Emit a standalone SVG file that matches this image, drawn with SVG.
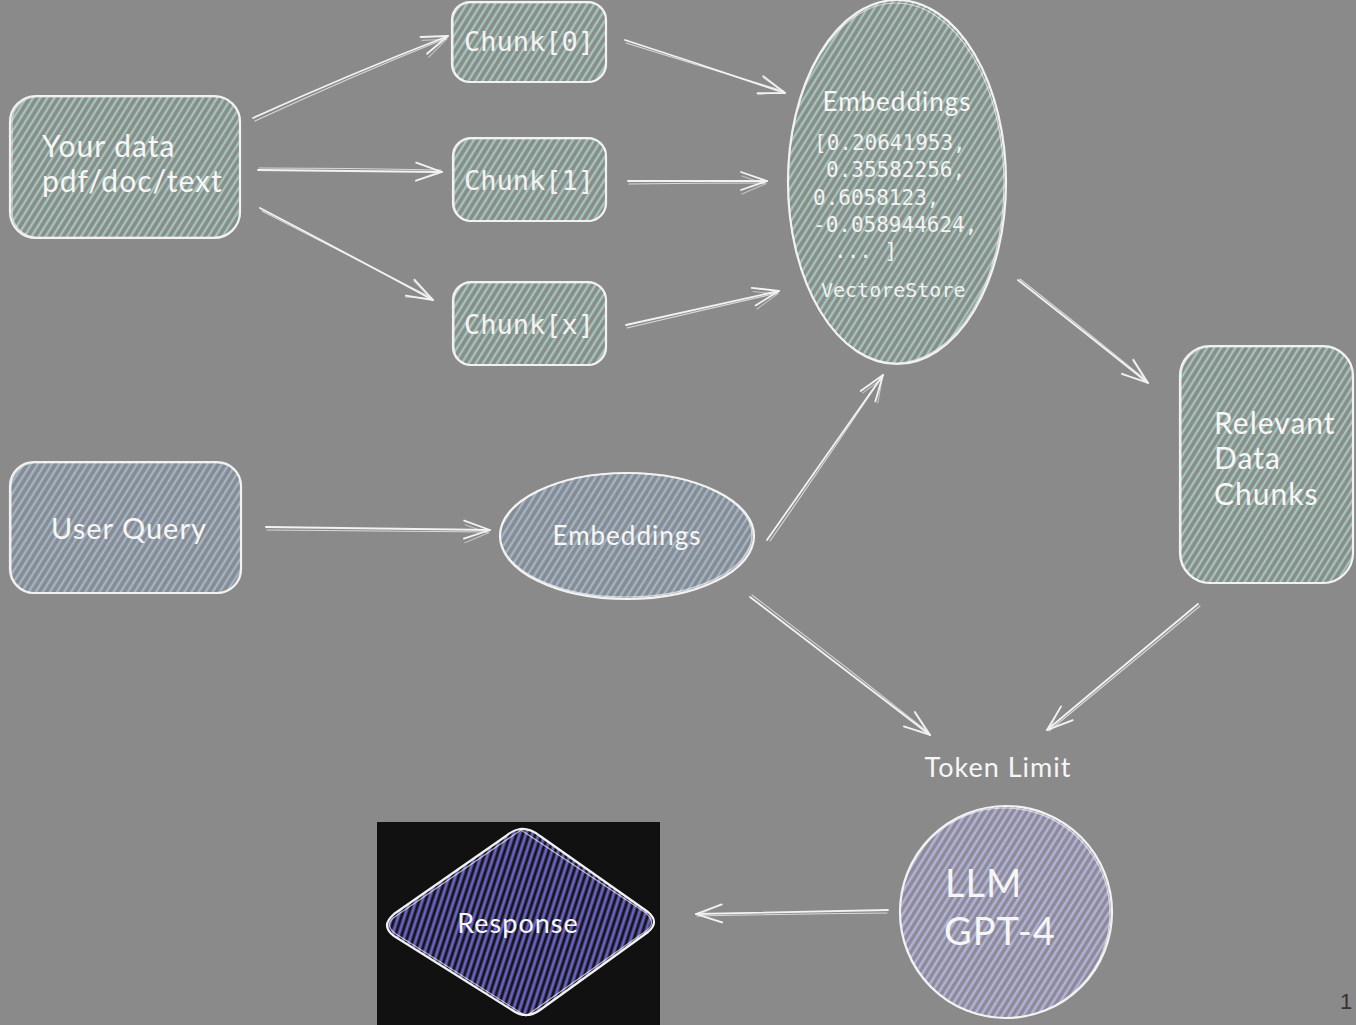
<svg xmlns="http://www.w3.org/2000/svg" width="1356" height="1025" viewBox="0 0 1356 1025">
  <defs>
    <style>
      .hand { font-family: "Lato", "Noto Sans", "Liberation Sans", sans-serif; fill: #f6f6f6; letter-spacing: 1px; }
      .code { font-family: "DejaVu Sans Mono", "Liberation Mono", monospace; fill: #f2f2f2; }
      .edge { stroke: #f2f2f2; stroke-width: 2.2; stroke-linecap: round; stroke-linejoin: round; }
      .edge2 { fill: none; stroke: #f2f2f2; stroke-width: 1.2; stroke-linecap: round; opacity: 0.7; }
      .green { fill: url(#hatchGreen); }
      .blue { fill: url(#hatchBlue); }
      .purple { fill: url(#hatchPurple); }
      .indigo { fill: url(#hatchIndigo); }
      .wire { fill: none; stroke: #f2f2f2; stroke-width: 1.8; stroke-linecap: round; marker-end: url(#head); }
      .wire2 { fill: none; stroke: #f2f2f2; stroke-width: 1.1; stroke-linecap: round; opacity: 0.75; marker-end: url(#head2); }
    </style>
    <marker id="head" viewBox="-30 -14 34 28" markerWidth="34" markerHeight="28" refX="0" refY="0" orient="auto" markerUnits="userSpaceOnUse">
      <path d="M-26,-9 L0,0 L-26,9" fill="none" stroke="#f2f2f2" stroke-width="1.8" stroke-linecap="round" stroke-linejoin="round"/>
    </marker>
    <marker id="head2" viewBox="-30 -14 34 28" markerWidth="34" markerHeight="28" refX="0" refY="0" orient="auto" markerUnits="userSpaceOnUse">
      <path d="M-24,-7 L-1,1 L-24,11" fill="none" stroke="#f2f2f2" stroke-width="1.1" stroke-linecap="round" opacity="0.75"/>
    </marker>
    <pattern id="hatchGreen" width="6" height="6" patternUnits="userSpaceOnUse" patternTransform="rotate(32)">
      <rect width="6" height="6" fill="#888b89"/>
      <line x1="2" y1="0" x2="2" y2="6" stroke="#a3c6b9" stroke-width="2.4"/>
    </pattern>
    <pattern id="hatchBlue" width="6" height="6" patternUnits="userSpaceOnUse" patternTransform="rotate(32)">
      <rect width="6" height="6" fill="#888a8d"/>
      <line x1="2" y1="0" x2="2" y2="6" stroke="#9fb5cb" stroke-width="2.4"/>
    </pattern>
    <pattern id="hatchPurple" width="6" height="6" patternUnits="userSpaceOnUse" patternTransform="rotate(32)">
      <rect width="6" height="6" fill="#8b8a93"/>
      <line x1="2" y1="0" x2="2" y2="6" stroke="#b4b2dc" stroke-width="2.6"/>
    </pattern>
    <pattern id="hatchIndigo" width="6" height="6" patternUnits="userSpaceOnUse" patternTransform="rotate(18)">
      <rect width="6" height="6" fill="#141418"/>
      <line x1="2" y1="0" x2="2" y2="6" stroke="#6a63c4" stroke-width="3"/>
    </pattern>
  </defs>

  <!-- canvas -->
  <rect x="0" y="0" width="1356" height="1025" fill="#8a8a8a"/>

  <!-- source document -->
  <g id="your-data">
    <rect x="10" y="96" width="230" height="142" rx="26" class="edge green"/>
    <rect x="12" y="97" width="228" height="140" rx="25" class="edge2"/>
    <text class="hand" x="42" y="157" font-size="30">Your data</text>
    <text class="hand" x="42" y="192" font-size="30">pdf/doc/text</text>
  </g>

  <!-- split chunks -->
  <g id="chunk-0">
    <rect x="452" y="2" width="154" height="80" rx="18" class="edge green"/>
    <rect x="453" y="3" width="153" height="79" rx="18" class="edge2"/>
    <text class="code" x="529" y="51" font-size="27" text-anchor="middle">Chunk[0]</text>
  </g>
  <g id="chunk-1">
    <rect x="453" y="138" width="153" height="83" rx="18" class="edge green"/>
    <rect x="454" y="139" width="152" height="82" rx="18" class="edge2"/>
    <text class="code" x="529" y="190" font-size="27" text-anchor="middle">Chunk[1]</text>
  </g>
  <g id="chunk-x">
    <rect x="453" y="282" width="153" height="83" rx="18" class="edge green"/>
    <rect x="454" y="283" width="152" height="82" rx="18" class="edge2"/>
    <text class="code" x="529" y="334" font-size="27" text-anchor="middle">Chunk[x]</text>
  </g>

  <!-- vector store -->
  <g id="vector-store">
    <ellipse cx="897" cy="182" rx="109" ry="182" class="edge green"/>
    <ellipse cx="896" cy="183" rx="108" ry="180" class="edge2"/>
    <text class="hand" x="897" y="111" font-size="26" text-anchor="middle" letter-spacing="1.4">Embeddings</text>
    <text class="code" x="814" y="150" font-size="21">[0.20641953,</text>
    <text class="code" x="826" y="177" font-size="21">0.35582256,</text>
    <text class="code" x="813" y="205" font-size="21">0.6058123,</text>
    <text class="code" x="813" y="232" font-size="21">-0.058944624,</text>
    <text class="code" x="834" y="258" font-size="21">... ]</text>
    <text class="code" x="821" y="297" font-size="20">VectoreStore</text>
  </g>

  <!-- retrieved results -->
  <g id="relevant-chunks">
    <rect x="1180" y="346" width="173" height="237" rx="30" class="edge green"/>
    <rect x="1181" y="347" width="172" height="236" rx="30" class="edge2"/>
    <text class="hand" x="1214" y="434" font-size="30">Relevant</text>
    <text class="hand" x="1214" y="469" font-size="30">Data</text>
    <text class="hand" x="1214" y="505" font-size="30">Chunks</text>
  </g>

  <!-- query side -->
  <g id="user-query">
    <rect x="10" y="462" width="231" height="131" rx="24" class="edge blue"/>
    <rect x="11" y="463" width="230" height="130" rx="24" class="edge2"/>
    <text class="hand" x="129" y="539" font-size="29" text-anchor="middle" letter-spacing="1.3">User Query</text>
  </g>
  <g id="query-embeddings">
    <ellipse cx="627" cy="536" rx="127" ry="63" class="edge blue"/>
    <ellipse cx="626" cy="535" rx="126" ry="62" class="edge2"/>
    <text class="hand" x="627" y="545" font-size="26" text-anchor="middle" letter-spacing="1.3">Embeddings</text>
  </g>

  <!-- model -->
  <g id="token-limit">
    <text class="hand" x="998" y="777" font-size="27" text-anchor="middle" letter-spacing="2">Token Limit</text>
  </g>
  <g id="llm">
    <circle cx="1006" cy="912" r="106" class="edge purple"/>
    <circle cx="1005" cy="913" r="105" class="edge2"/>
    <text class="hand" x="945" y="897" font-size="38" letter-spacing="3">LLM</text>
    <text class="hand" x="944" y="945" font-size="38" letter-spacing="4">GPT-4</text>
  </g>

  <!-- answer -->
  <g id="response">
    <rect x="377" y="822" width="283" height="203" fill="#111111"/>
    <path d="M520,829 Q530,828 540,836 L648,912 Q660,922 648,932 L540,1010 Q526,1020 512,1010 L394,936 Q380,926 394,914 L506,836 Q513,830 520,829 Z" class="edge indigo"/>
    <path d="M521,830 L646,913 Q657,923 646,931 L526,1016 L396,934 Q383,925 396,916 Z" class="edge2"/>
    <text class="hand" x="518" y="933" font-size="27" text-anchor="middle" letter-spacing="1.5">Response</text>
  </g>

  <text x="1340" y="1009" font-family="Liberation Sans, Arial, sans-serif" font-size="22" fill="#333333">1</text>

  <!-- connectors -->
  <g id="connectors">
    <path class="wire" d="M253,118 Q350,74 448,36"/>
    <path class="wire2" d="M255,121 Q352,76 447,38"/>
    <path class="wire" d="M258,170 Q350,171 442,172"/>
    <path class="wire2" d="M259,168 Q350,168 441,170"/>
    <path class="wire" d="M260,208 Q346,253 433,300"/>
    <path class="wire2" d="M262,211 Q348,255 432,298"/>
    <path class="wire" d="M625,40 Q705,66 785,93"/>
    <path class="wire2" d="M626,43 Q706,68 784,91"/>
    <path class="wire" d="M628,181 Q698,181 767,181"/>
    <path class="wire2" d="M629,184 Q698,183 766,183"/>
    <path class="wire" d="M626,325 Q702,308 779,291"/>
    <path class="wire2" d="M627,328 Q703,310 778,293"/>
    <path class="wire" d="M1018,280 Q1083,331 1148,383"/>
    <path class="wire2" d="M1020,279 Q1085,330 1147,381"/>
    <path class="wire" d="M266,527 Q378,528 490,530"/>
    <path class="wire2" d="M267,530 Q378,531 489,532"/>
    <path class="wire" d="M767,540 Q825,457 883,375"/>
    <path class="wire2" d="M770,541 Q827,459 882,377"/>
    <path class="wire" d="M750,597 Q840,666 930,735"/>
    <path class="wire2" d="M752,595 Q842,663 929,733"/>
    <path class="wire" d="M1198,604 Q1122,667 1047,730"/>
    <path class="wire2" d="M1200,606 Q1124,669 1049,731"/>
    <path class="wire" d="M888,910 Q792,912 696,914"/>
    <path class="wire2" d="M887,913 Q792,914 697,916"/>
  </g>
</svg>
